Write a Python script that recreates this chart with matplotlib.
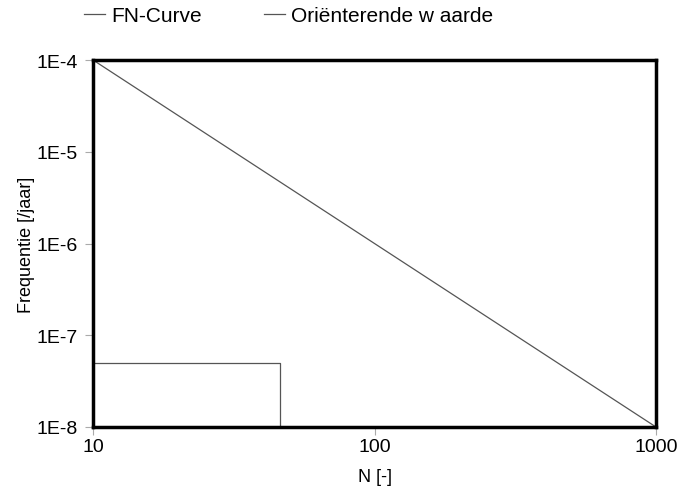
import matplotlib
matplotlib.use("Agg")
import matplotlib.pyplot as plt
from matplotlib.ticker import FixedLocator, FixedFormatter, NullLocator

plt.rcParams['font.family'] = ['Liberation Sans', 'DejaVu Sans']

# FN-curve (step) and guideline value (1E-2 / N^2)
fn_n = [10, 46, 46]
fn_f = [5e-8, 5e-8, 1e-8]
guide_n = [10, 1000]
guide_f = [1e-4, 1e-8]

x_ticks = [10, 100, 1000]
x_labels = ["10", "100", "1000"]
y_ticks = [1e-8, 1e-7, 1e-6, 1e-5, 1e-4]
y_labels = ["1E-8", "1E-7", "1E-6", "1E-5", "1E-4"]

W, H = 681, 489
fig = plt.figure(figsize=(W / 100, H / 100), dpi=100)
ax = fig.add_axes([93 / W, 1 - 428 / H, 563 / W, 367 / H])

l1, = ax.plot(fn_n, fn_f, color='#555555', lw=0.9)
l2, = ax.plot(guide_n, guide_f, color='#555555', lw=0.9)

ax.set_xscale('log')
ax.set_yscale('log')
ax.set_xlim(10, 1000)
ax.set_ylim(1e-8, 1e-4)

ax.xaxis.set_major_locator(FixedLocator(x_ticks))
ax.xaxis.set_major_formatter(FixedFormatter(x_labels))
ax.xaxis.set_minor_locator(NullLocator())
ax.yaxis.set_major_locator(FixedLocator(y_ticks))
ax.yaxis.set_major_formatter(FixedFormatter(y_labels))
ax.yaxis.set_minor_locator(NullLocator())
ax.tick_params(direction='out', length=6, width=0.8, color='#aaaaaa',
               labelsize=14)
ax.tick_params(axis='y', pad=5)
ax.tick_params(axis='x', pad=2)

for s in ax.spines.values():
    s.set_linewidth(2.5)
    s.set_color('black')

ax.set_xlabel("N [-]", fontsize=13, labelpad=9)
ax.set_ylabel("Frequentie [/jaar]", fontsize=13, labelpad=1)

# two legend entries side by side above the plot
fig.legend([l1], ["FN-Curve"], loc='center left',
           bbox_to_anchor=(84 / W, 1 - 17 / H), frameon=False,
           fontsize=15, handlelength=1.0, handletextpad=0.3,
           borderpad=0, borderaxespad=0)
fig.legend([l2], ["Oriënterende w aarde"], loc='center left',
           bbox_to_anchor=(264 / W, 1 - 17 / H), frameon=False,
           fontsize=15, handlelength=1.0, handletextpad=0.3,
           borderpad=0, borderaxespad=0)

fig.savefig("out.png", dpi=100)
